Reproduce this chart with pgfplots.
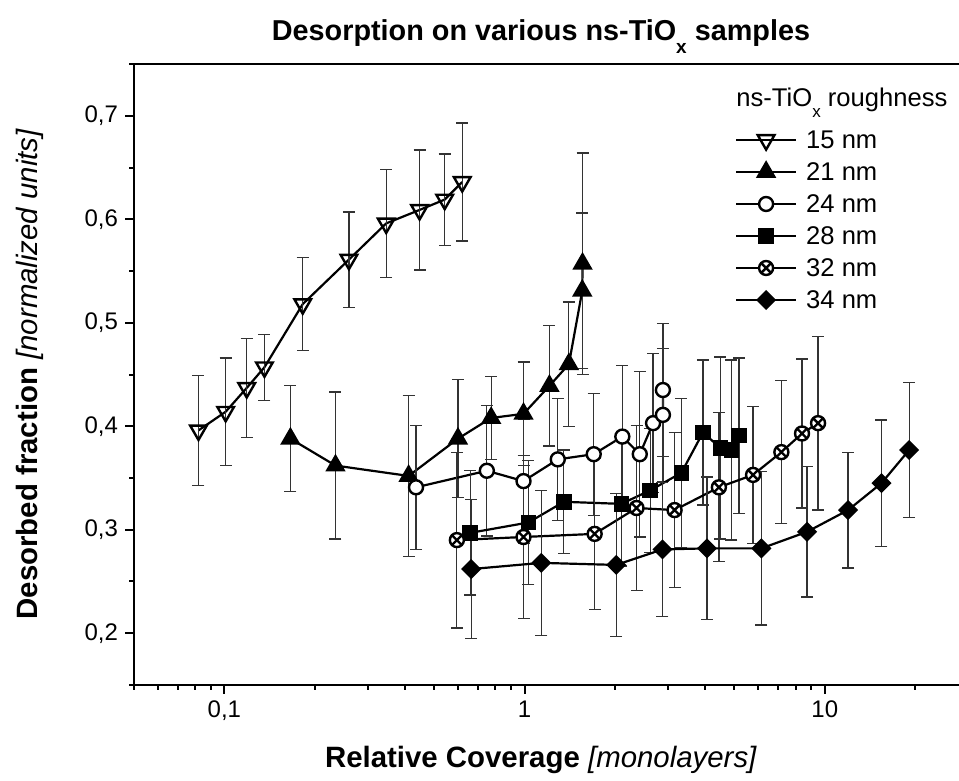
\documentclass[border=0pt]{standalone}
\usepackage{pgfplots}
\pgfplotsset{compat=1.18}
\usepackage{fontspec}
\setmainfont{Liberation Sans}
\newcommand{\lowx}[1]{\raisebox{-0.42em}{\fontsize{#1}{#1}\selectfont x}}
\begin{document}
\begin{tikzpicture}
\useasboundingbox (-67pt,-48pt) rectangle (412.5pt,342.5pt);
\begin{axis}[
  at={(0pt,0pt)}, anchor=south west,
  scale only axis, width=412.5pt, height=310.5pt,
  xmode=log, xmin=0.05, xmax=28, ymin=0.15, ymax=0.75,
  every non boxed y axis/.style={},
  axis x line*=box, axis y line*=left,
  y axis line style={-},
  axis line style={line width=1.2pt},
  tick pos=left, tick align=outside,
  major tick length=4.5pt, minor tick length=2.5pt,
  every tick/.style={line width=1pt, black},
  xtick={0.1,1,10}, xticklabels={{0,1},{1},{10}},
  minor xtick={0.05,0.06,0.07,0.08,0.09,0.2,0.3,0.4,0.5,0.6,0.7,0.8,0.9,2,3,4,5,6,7,8,9,20},
  ytick={0.2,0.3,0.4,0.5,0.6,0.7},
  yticklabels={{0,2},{0,3},{0,4},{0,5},{0,6},{0,7}},
  minor ytick={0.15,0.25,0.35,0.45,0.55,0.65,0.75},
  ticklabel style={font=\fontsize{12}{14}\selectfont},
  clip=false,
  every axis plot/.append style={line width=1.1pt, black},
  error bars/y dir=both, error bars/y explicit,
  error bars/error bar style={line width=0.6pt, black!80, solid},
  error bars/error mark options={rotate=90, mark size=3pt, line width=0.6pt, black!80, solid},
  legend style={at={(0.7285,0.9034)}, anchor=north west, draw=none, fill=none,
    inner sep=0pt, outer sep=0pt, row sep=0pt,
    font=\fontsize{12.8}{15}\selectfont,
    nodes={inner sep=0pt, text height=12.5pt, text depth=3.5pt},
    /tikz/every odd column/.append style={column sep=4.5pt}},
  legend cell align=left,
  legend image code/.code={\draw[mark repeat=2,mark phase=2] plot coordinates {(0pt,0pt) (15pt,0pt) (30pt,0pt)};},
]
% 15 nm
\addplot[mark=triangle, mark size=4.8pt, mark options={rotate=180, fill=white, solid, line width=1.2pt}]
  table[x=x, y=y, y error=e] {
x y e
0.082 0.396 0.053
0.101 0.414 0.052
0.1187 0.437 0.048
0.136 0.457 0.032
0.1824 0.518 0.045
0.26 0.561 0.046
0.346 0.596 0.052
0.447 0.609 0.058
0.542 0.619 0.044
0.62 0.636 0.057
};
\addlegendentry{15 nm}
% 21 nm
\addplot[mark=triangle*, mark size=4.8pt, mark options={fill=black, solid}]
  table[x=x, y=y, y error=e] {
x y e
0.166 0.388 0.051
0.2345 0.362 0.071
0.411 0.352 0.078
0.60 0.388 0.057
0.774 0.408 0.040
0.992 0.412 0.050
1.21 0.439 0.058
1.405 0.460 0.060
1.557 0.531 0.075
1.560 0.557 0.107
};
\addlegendentry{21 nm}
% 24 nm
\addplot[mark=*, mark size=3.5pt, mark options={fill=white, solid, line width=1.2pt}]
  table[x=x, y=y, y error=e] {
x y e
0.435 0.341 0.060
0.749 0.357 0.063
0.992 0.347 0.060
1.29 0.368 0.059
1.70 0.373 0.059
2.117 0.390 0.069
2.42 0.373 0.080
2.68 0.403 0.067
2.89 0.411 0.064
2.89 0.435 0.064
};
\addlegendentry{24 nm}
% 28 nm
\addplot[mark=square*, mark size=3.3pt, mark options={fill=black, solid}]
  table[x=x, y=y, y error=e] {
x y e
0.659 0.297 0.060
1.03 0.307 0.060
1.352 0.327 0.050
2.10 0.325 0.060
2.62 0.338 0.060
3.33 0.355 0.072
3.93 0.394 0.070
4.49 0.379 0.088
4.89 0.377 0.087
5.18 0.391 0.075
};
\addlegendentry{28 nm}
% 32 nm
\addplot[mark=otimes*, mark size=3.5pt, mark options={fill=white, solid, line width=1.2pt}]
  table[x=x, y=y, y error=e] {
x y e
0.595 0.290 0.085
0.992 0.293 0.079
1.712 0.296 0.073
2.36 0.321 0.080
3.16 0.319 0.075
4.44 0.341 0.072
5.77 0.353 0.066
7.17 0.375 0.069
8.40 0.393 0.072
9.50 0.403 0.084
};
\addlegendentry{32 nm}
% 34 nm
\addplot[mark=square*, mark size=3pt, mark options={rotate=45, fill=black, solid}]
  table[x=x, y=y, y error=e] {
x y e
0.664 0.262 0.067
1.137 0.268 0.070
2.02 0.266 0.069
2.88 0.281 0.065
4.05 0.282 0.069
6.15 0.282 0.074
8.73 0.298 0.063
11.96 0.319 0.056
15.45 0.345 0.061
19.1 0.377 0.065
};
\addlegendentry{34 nm}
\end{axis}
\node[anchor=base, font=\bfseries\fontsize{14.4}{17}\selectfont] at (203.5pt,322pt) {Desorption on various ns-TiO\lowx{9.5} samples};
\node[anchor=base, font=\fontsize{14.7}{17}\selectfont] at (203.5pt,-41.5pt) {\textbf{Relative Coverage} \textit{[monolayers]}};
\node[anchor=center, rotate=90, font=\fontsize{14.7}{17}\selectfont] at (-52pt,155.5pt) {\textbf{Desorbed fraction} \textit{[normalized units]}};
\node[anchor=base west, inner sep=0pt, font=\fontsize{12.8}{15}\selectfont] at (301pt,289pt) {ns-TiO\lowx{8.5} roughness};
\end{tikzpicture}
\end{document}
